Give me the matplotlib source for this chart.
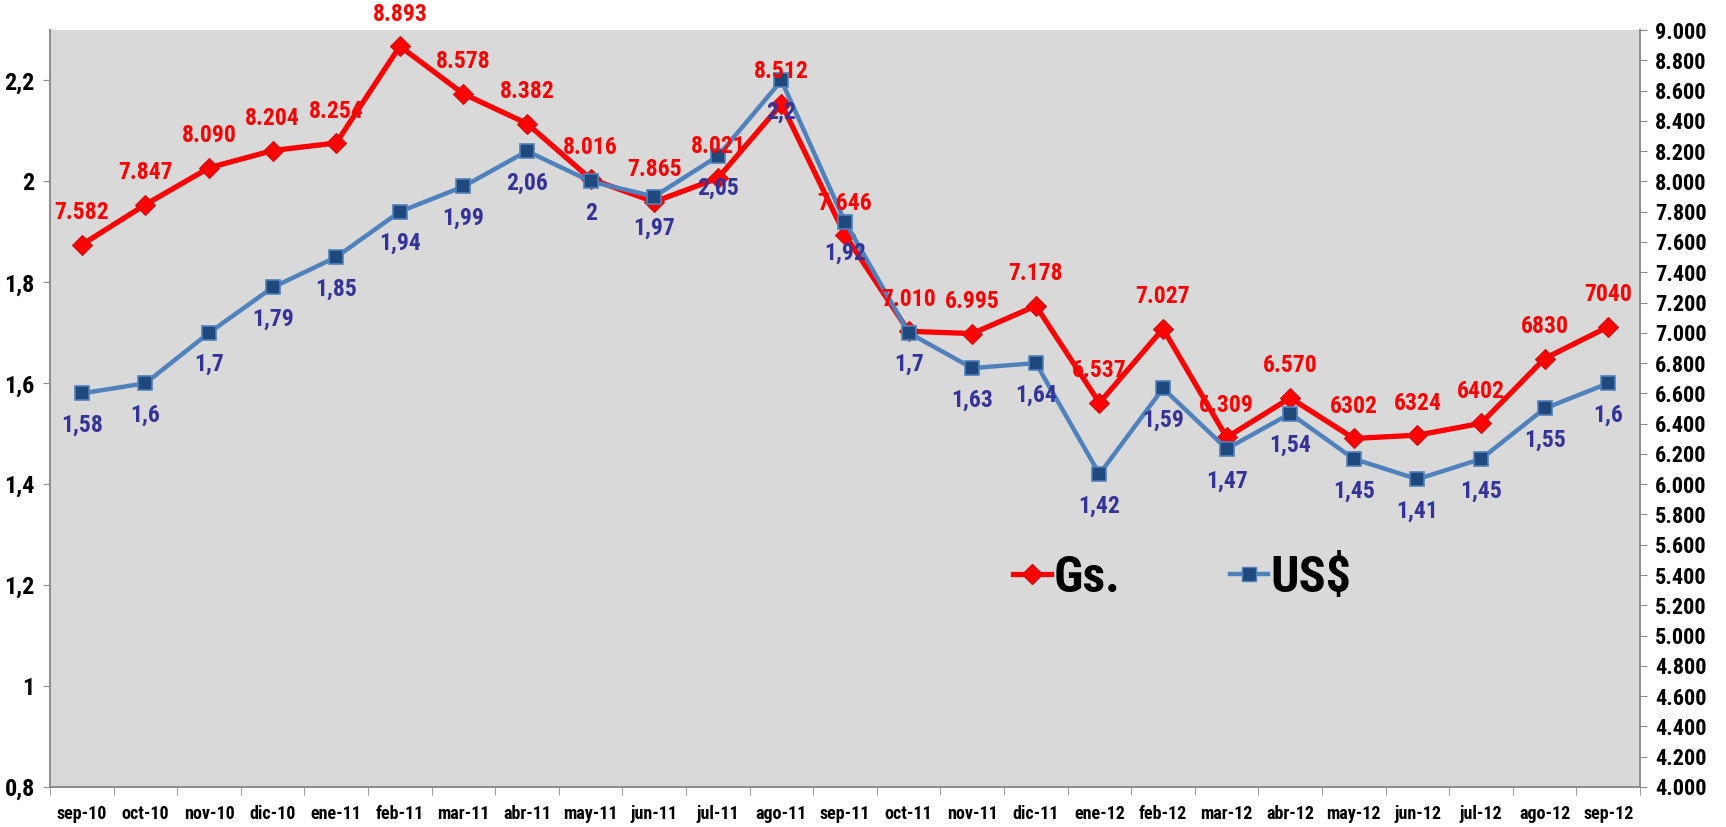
import matplotlib
matplotlib.use('Agg')
import numpy as np
from matplotlib import pyplot as plt
from matplotlib import font_manager
from matplotlib.ticker import FixedLocator, FuncFormatter, MultipleLocator
from matplotlib.lines import Line2D

# data
months = ['sep-10', 'oct-10', 'nov-10', 'dic-10', 'ene-11', 'feb-11', 'mar-11',
          'abr-11', 'may-11', 'jun-11', 'jul-11', 'ago-11', 'sep-11', 'oct-11',
          'nov-11', 'dic-11', 'ene-12', 'feb-12', 'mar-12', 'abr-12', 'may-12',
          'jun-12', 'jul-12', 'ago-12', 'sep-12']
gs = [7582, 7847, 8090, 8204, 8254, 8893, 8578, 8382, 8016, 7865, 8021, 8512,
      7646, 7010, 6995, 7178, 6537, 7027, 6309, 6570, 6302, 6324, 6402, 6830, 7040]
gs_labels = ['7.582', '7.847', '8.090', '8.204', '8.254', '8.893', '8.578',
             '8.382', '8.016', '7.865', '8.021', '8.512', '7.646', '7.010',
             '6.995', '7.178', '6.537', '7.027', '6.309', '6.570', '6302',
             '6324', '6402', '6830', '7040']
usd = [1.58, 1.6, 1.7, 1.79, 1.85, 1.94, 1.99, 2.06, 2, 1.97, 2.05, 2.2, 1.92,
       1.7, 1.63, 1.64, 1.42, 1.59, 1.47, 1.54, 1.45, 1.41, 1.45, 1.55, 1.6]

RED = '#FF0000'
BLUE_LINE = '#4F81BD'
BLUE_FILL = '#1F497D'
BLUE_TEXT = '#333399'
AXIS_GRAY = '#8C8C8C'


def pick_font():
    # look for a narrow face first, fall back to Arial-like Liberation Sans
    names = {f.name for f in font_manager.fontManager.ttflist}
    for n in ['Liberation Sans Narrow', 'Roboto Condensed', 'Open Sans Condensed',
              'Liberation Sans', 'Roboto']:
        if n in names:
            return n, ('Narrow' in n or 'Condensed' in n)
    return 'DejaVu Sans', False


FONT, IS_NARROW = pick_font()
FAM = [FONT, 'DejaVu Sans']
SCALE = 1.0 if IS_NARROW else 0.88


def main():
    x = np.arange(len(months))

    fig = plt.figure(figsize=(17.26, 8.27), dpi=100)
    ax = fig.add_axes([0.029, 0.0484, 0.9212, 0.9153])
    ax.set_facecolor('#D9D9D9')
    ax2 = ax.twinx()

    # Gs. on the primary axes (scale shown on the right)
    ax.plot(x, gs, color=RED, lw=3.8, marker='D', ms=10,
            mfc=RED, mec='#D01010', mew=0.8, zorder=3)
    ax.set_ylim(4000, 9000)
    ax.yaxis.tick_right()
    ax.yaxis.set_major_locator(MultipleLocator(200))
    ax.yaxis.set_major_formatter(
        FuncFormatter(lambda v, p: f'{int(round(v)):,}'.replace(',', '.')))

    # US$ on the twin (scale shown on the left)
    ax2.plot(x, usd, color=BLUE_LINE, lw=3.2, marker='s', ms=10,
             mfc=BLUE_FILL, mec=BLUE_LINE, mew=1.2, zorder=3)
    ax2.set_ylim(0.8, 2.3)
    ax2.yaxis.tick_left()
    ax2.yaxis.set_major_locator(FixedLocator([0.8, 1.0, 1.2, 1.4, 1.6, 1.8, 2.0, 2.2]))
    ax2.yaxis.set_major_formatter(
        FuncFormatter(lambda v, p: f'{v:g}'.replace('.', ',')))

    # data labels, all on the top axes so they sit over both lines
    for i in range(len(months)):
        ax2.annotate(gs_labels[i], xy=(x[i], gs[i]), xycoords=ax.transData,
                     xytext=(0, 23), textcoords='offset points',
                     ha='center', va='center', color=RED, fontsize=17 * SCALE,
                     fontweight='bold', family=FAM, zorder=5)
        ax2.annotate(f'{usd[i]:g}'.replace('.', ','), xy=(x[i], usd[i]),
                     xytext=(0, -23), textcoords='offset points',
                     ha='center', va='center', color=BLUE_TEXT, fontsize=17 * SCALE,
                     fontweight='bold', family=FAM, zorder=5)

    # x axis: labels at category centers, tick marks between categories
    ax.set_xlim(-0.5, len(months) - 0.5)
    ax.set_xticks(x)
    ax.set_xticklabels(months, fontsize=13 * SCALE, fontweight='bold', family=FAM)
    ax.xaxis.set_minor_locator(FixedLocator(np.arange(-0.5, len(months), 1)))
    ax.tick_params(axis='x', which='major', length=0, pad=13)
    ax.tick_params(axis='x', which='minor', length=6, color=AXIS_GRAY)

    ax.tick_params(axis='y', labelsize=16 * SCALE)
    ax2.tick_params(axis='y', labelsize=17.5 * SCALE)
    for a in (ax, ax2):
        a.tick_params(axis='y', length=5, color=AXIS_GRAY, pad=6)
        for lab in a.get_yticklabels():
            lab.set_fontweight('bold')
            lab.set_family(FAM)
        a.spines['top'].set_visible(False)
        for s in ('left', 'right', 'bottom'):
            a.spines[s].set_color(AXIS_GRAY)
            a.spines[s].set_linewidth(1.2)

    handles = [
        Line2D([], [], color=RED, lw=3.8, marker='D', ms=10, mfc=RED, mec='#D01010'),
        Line2D([], [], color=BLUE_LINE, lw=3.2, marker='s', ms=10,
               mfc=BLUE_FILL, mec=BLUE_LINE),
    ]
    ax2.legend(handles, ['Gs.', 'US$'], ncol=2, frameon=False, loc='center',
               bbox_to_anchor=(0.712, 0.276), handlelength=0.75,
               handletextpad=0.05, columnspacing=2.2,
               prop={'family': FAM, 'weight': 'bold', 'size': 36 * SCALE})

    fig.savefig('out.png', dpi=100)


main()
